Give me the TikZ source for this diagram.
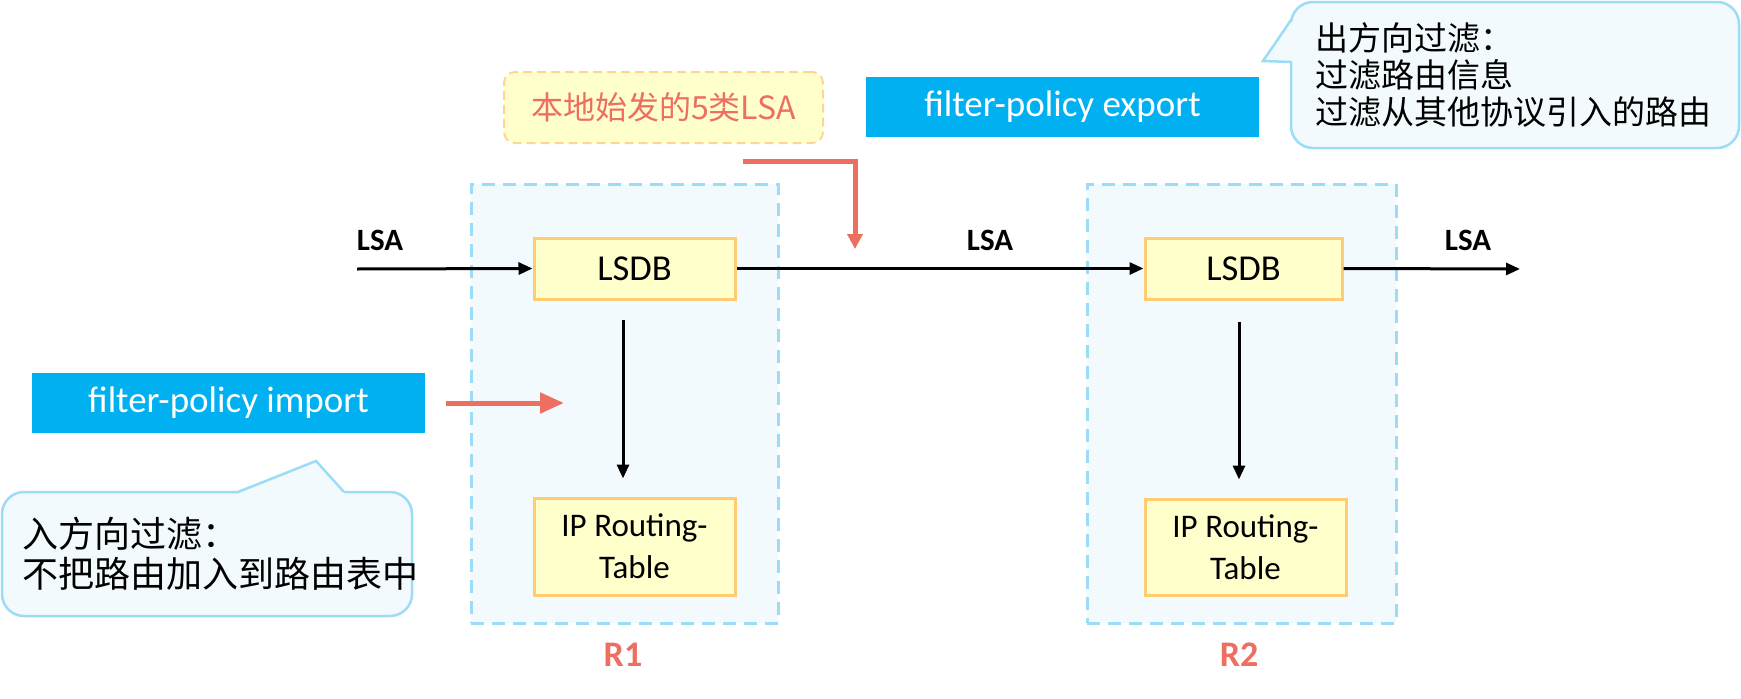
\documentclass[tikz,border=0pt]{standalone}
\usepackage{fontspec}
\setmainfont{Carlito}
\newfontfamily\cjk{Noto Sans CJK SC}
\usetikzlibrary{arrows.meta,calc}
\definecolor{polblue}{HTML}{00B0F0}
\definecolor{rborder}{HTML}{9DDCF6}
\definecolor{rfill}{HTML}{F3FAFE}
\definecolor{yfill}{HTML}{FFFFCC}
\definecolor{yborder}{HTML}{FFCC73}
\definecolor{redc}{HTML}{EC6F61}
\begin{document}
\begin{tikzpicture}[x=1pt,y=-1pt,
  routerbox/.style={draw=rborder,fill=rfill,line width=3pt,dash pattern=on 13pt off 8pt,inner sep=0pt},
  dbbox/.style={draw=yborder,fill=yfill,line width=3pt,inner sep=0pt,align=center},
  polbox/.style={fill=polblue,text=white,inner sep=0pt,font=\fontsize{37}{40}\selectfont},
  lsalabel/.style={inner sep=0pt,font=\fontsize{31}{34}\selectfont\bfseries},
  rlabel/.style={inner sep=0pt,text=redc,font=\fontsize{36}{40}\selectfont\bfseries},
  calloutbox/.style={draw=rborder,fill=rfill,line width=2.5pt,rounded corners=22pt,align=left,inner ysep=0pt},
  blackarrow/.style={line width=3pt,-{Triangle[length=14pt,width=12pt]}},
  redarrow/.style={draw=redc,line width=5pt,-{Triangle[length=24pt,width=20pt]}}
]
\useasboundingbox[fill=white] (0,0) rectangle (1741,699);

% routers
\node[routerbox,minimum width=307pt,minimum height=439pt] (r1) at (624.5,403.5) {};
\node[routerbox,minimum width=309pt,minimum height=439pt] (r2) at (1241.5,403.5) {};

% databases
\node[dbbox,minimum width=201pt,minimum height=61pt,font=\fontsize{36.5}{40}\selectfont] (lsdb1) at (634.5,268.5) {LSDB};
\node[dbbox,minimum width=197pt,minimum height=61pt,font=\fontsize{36.5}{40}\selectfont] (lsdb2) at (1243.5,268.5) {LSDB};
\node[dbbox,minimum width=201pt,minimum height=97pt,font=\fontsize{33}{42}\selectfont] (ip1) at (634.5,546.5) {IP Routing-\\Table};
\node[dbbox,minimum width=201pt,minimum height=96pt,font=\fontsize{33}{42}\selectfont] (ip2) at (1245.5,547) {IP Routing-\\Table};

% labels
\node[lsalabel] (lsa1) at (380,240) {LSA};
\node[lsalabel] (lsa2) at (990,240) {LSA};
\node[lsalabel] (lsa3) at (1468,240) {LSA};
\node[rlabel] (r1lab) at (623,655) {R1};
\node[rlabel] (r2lab) at (1239,655) {R2};

% policy boxes
\node[polbox,minimum width=393pt,minimum height=60pt] (imp) at (228.5,403) {filter-policy import};
\node[polbox,minimum width=393pt,minimum height=60pt] (exp) at (1062.5,107) {filter-policy export};

% type-5 LSA box
\node[draw=yborder!80,fill=yfill,line width=2pt,dash pattern=on 9pt off 5pt,rounded corners=11pt,
  minimum width=319pt,minimum height=71pt,inner sep=0pt,text=redc,font=\cjk\fontsize{32}{36}\selectfont] (t5) at (663.5,107.5) {本地始发的5类LSA};

% callouts
\node[calloutbox,minimum width=448pt,minimum height=146pt,inner xsep=24pt,text width=400pt,
  font=\cjk\fontsize{33}{37}\selectfont] (cout) at (1515,75) {出方向过滤：\\过滤路由信息\\过滤从其他协议引入的路由};
\fill[rfill] (1294,22) -- (1291,22) -- (1263,61) -- (1291,62) -- (1294,62) -- cycle;
\draw[rborder,line width=2.5pt,line join=miter] (1291,20) -- (1263,61) -- (1292,62);

\node[calloutbox,minimum width=410pt,minimum height=124pt,inner xsep=21pt,text width=368pt,
  font=\cjk\fontsize{36}{40}\selectfont] (cin) at (207,554) {入方向过滤：\\不把路由加入到路由表中};
\fill[rfill] (239,495) -- (239,492) -- (316,461) -- (344,492) -- (344,495) -- cycle;
\draw[rborder,line width=2.5pt] (238,492) -- (316,461) -- (344,492);

% connectors
\coordinate (in) at (357,269);
\coordinate (out) at (1520,269);
\draw[blackarrow] (in) -- (lsdb1.west);
\draw[blackarrow] (lsdb1.east) -- (lsdb2.west);
\draw[blackarrow] (lsdb2.east) -- (out);
\draw[blackarrow] ($(lsdb1.south)+(-11.5,19)$) -- ($(ip1.north)+(-11.5,-18)$);
\draw[blackarrow] ($(lsdb2.south)+(-4.5,21)$) -- ($(ip2.north)+(-6.5,-18)$);

\coordinate (imps) at (446,403);
\coordinate (impe) at (564,403);
\draw[redarrow] (imps) -- (impe);
\coordinate (exps) at (743,161);
\coordinate (expc) at (855,161);
\coordinate (expe) at (855,249);
\draw[redarrow,-{Triangle[length=15pt,width=15pt]}] (exps) -- (expc) -- (expe);
\end{tikzpicture}
\end{document}
